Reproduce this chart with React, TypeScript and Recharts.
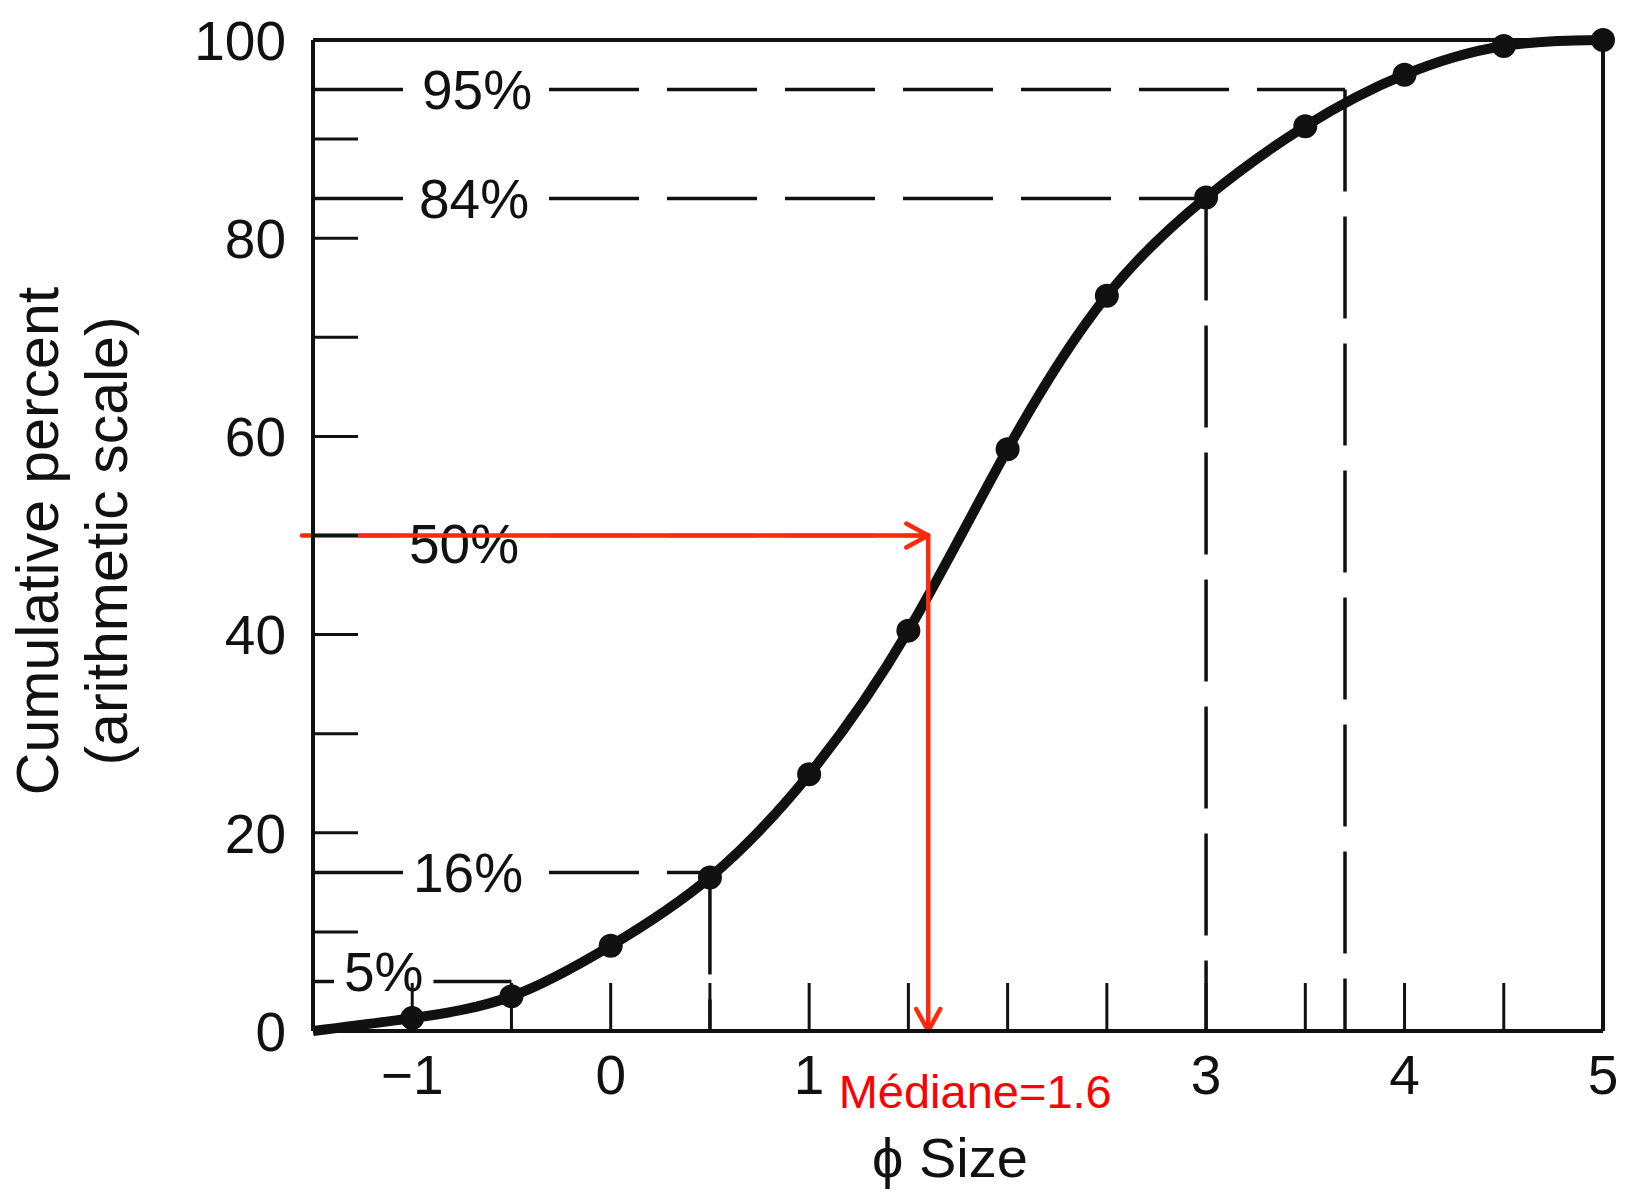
import React from 'react'
import { LineChart, Line, XAxis, YAxis, ReferenceLine } from 'recharts'

// cumulative grain-size curve (phi scale)
const phiSize = [-1.5, -1, -0.5, 0, 0.5, 1, 1.5, 2, 2.5, 3, 3.5, 4, 4.5, 5]
const cumulativePct = [0, 1.3, 3.5, 8.6, 15.5, 25.9, 40.4, 58.7, 74.2, 84.1, 91.3, 96.5, 99.4, 100]

const xLabelTicks = [-1, 0, 1, 3, 4, 5]
const xMinorTicks = [-1, -0.5, 0, 0.5, 1, 1.5, 2, 2.5, 3, 3.5, 4, 4.5]
const yTicks = [0, 10, 20, 30, 40, 50, 60, 70, 80, 90, 100]

// percentile guides and where they meet the curve
const percentiles = [5, 16, 50, 84, 95]
const percentileLabels = ['5%', '16%', '50%', '84%', '95%']
const percentilePhi = [-0.5, 0.5, 1.6, 3, 3.7]
const dropLines = [16, 84, 95]

const MEDIAN = 1.6

const INK = '#111'
const RED = '#ff2a0a'
const FONT = '"Liberation Sans", Arial, Helvetica, sans-serif'

// label placement along each guide (px from the y axis, vertical nudge)
const labelInset: Record<number, number> = { 5: 31, 16: 100, 50: 96, 84: 106, 95: 109 }
const labelNudge: Record<number, number> = { 5: -10, 50: 8 }

const data = phiSize.map((phi, i) => ({ phi, pct: cumulativePct[i] }))

const Y_TICK_MARGIN = 27

function renderDot(p: any) {
  if (p.index === 0) return <g key={`d${p.index}`} />
  return <circle key={`d${p.index}`} cx={p.cx} cy={p.cy} r={12} fill={INK} />
}

// y tick: number every 20, short inward mark every 10
function YTick(props: any) {
  const { x, y, payload } = props
  const v = payload.value
  const axisX = x + Y_TICK_MARGIN
  return (
    <g>
      {v % 20 === 0 && (
        <text x={x} y={y} dy="0.36em" textAnchor="end" fontSize={55} fontFamily={FONT} fill={INK}>
          {v}
        </text>
      )}
      {v > 0 && v < 100 && <line x1={axisX} y1={y} x2={axisX + 45} y2={y} stroke={INK} strokeWidth={3} />}
    </g>
  )
}

function GuideLine(props: any) {
  const { x1, y1, x2, y2, text, pct } = props
  const fs = 55
  const left = x1 + (labelInset[pct] ?? 100)
  const w = ((text.length - 1) * 0.556 + 0.889) * fs
  const dy = labelNudge[pct] ?? 0
  return (
    <g>
      <line x1={x1} y1={y1} x2={x2} y2={y2} stroke={INK} strokeWidth={3.5} strokeDasharray="90 28" />
      <rect x={left - 10} y={y1 - 32 + dy} width={w + 20} height={64} fill="#fff" />
      <text x={left} y={y1 + dy} dy="0.36em" fontSize={fs} fontFamily={FONT} fill={INK}>
        {text}
      </text>
    </g>
  )
}

function DropLine(props: any) {
  const { x1, y1, x2, y2 } = props
  return <line x1={x1} y1={y1} x2={x2} y2={y2} stroke={INK} strokeWidth={3.5} strokeDasharray="102 25" />
}

function MedianArrowH(props: any) {
  const { x1, y1, x2 } = props
  return (
    <g stroke={RED} strokeWidth={4.5} fill="none" strokeLinecap="round" strokeLinejoin="round">
      <line x1={x1 - 11} y1={y1} x2={x2} y2={y1} />
      <polyline points={`${x2 - 22},${y1 - 12} ${x2},${y1} ${x2 - 22},${y1 + 12}`} />
    </g>
  )
}

function MedianArrowV(props: any) {
  const { x1, y1, y2 } = props
  return (
    <g>
      <g stroke={RED} strokeWidth={4.5} fill="none" strokeLinecap="round" strokeLinejoin="round">
        <line x1={x1} y1={y1} x2={x1} y2={y2} />
        <polyline points={`${x1 - 12},${y2 - 22} ${x1},${y2} ${x1 + 12},${y2 - 22}`} />
      </g>
      <text x={x1 + 47} y={y2 + 77} textAnchor="middle" fontSize={47} fontFamily={FONT} fill="#ff0000">
        {`Médiane=${MEDIAN}`}
      </text>
    </g>
  )
}

const tickStyle = { fill: INK, fontSize: 55, fontFamily: FONT }

export default function App() {
  return (
    <div style={{ position: 'absolute', left: 0, top: 0, width: 1633, height: 1196, background: '#fff' }}>
      <LineChart width={1633} height={1196} data={data} margin={{ top: 40, right: 30, left: 213, bottom: 105 }}>
        <XAxis
          dataKey="phi"
          type="number"
          domain={[-1.5, 5]}
          ticks={xLabelTicks}
          tickFormatter={(v: number) => (v < 0 ? `\u2212${Math.abs(v)}` : `${v}`)}
          tick={tickStyle}
          tickLine={false}
          tickSize={0}
          tickMargin={24}
          height={60}
          axisLine={{ stroke: INK, strokeWidth: 4 }}
        />
        <XAxis
          xAxisId="minor"
          dataKey="phi"
          type="number"
          domain={[-1.5, 5]}
          ticks={xMinorTicks}
          orientation="bottom"
          mirror
          height={60}
          tickSize={48}
          tickFormatter={() => ''}
          tickLine={{ stroke: INK, strokeWidth: 3 }}
          axisLine={false}
        />
        <YAxis
          type="number"
          domain={[0, 100]}
          ticks={yTicks}
          tick={<YTick />}
          tickLine={false}
          tickSize={0}
          tickMargin={Y_TICK_MARGIN}
          width={100}
          axisLine={{ stroke: INK, strokeWidth: 4 }}
        />

        {/* frame */}
        <ReferenceLine y={100} stroke={INK} strokeWidth={4} />
        <ReferenceLine x={5} stroke={INK} strokeWidth={4} />

        {/* vertical drops from the percentile crossings */}
        {percentiles.map((p, i) =>
          dropLines.includes(p) ? (
            <ReferenceLine
              key={`drop${p}`}
              segment={[{ x: percentilePhi[i], y: p }, { x: percentilePhi[i], y: 0 }]}
              shape={(sp: any) => <DropLine {...sp} />}
            />
          ) : null
        )}

        {/* percentile guides with labels */}
        {percentiles.map((p, i) => (
          <ReferenceLine
            key={`guide${p}`}
            segment={[{ x: -1.5, y: p }, { x: percentilePhi[i], y: p }]}
            shape={(sp: any) => <GuideLine {...sp} text={percentileLabels[i]} pct={p} />}
          />
        ))}

        <Line
          dataKey="pct"
          type="natural"
          stroke={INK}
          strokeWidth={10}
          dot={renderDot}
          activeDot={false}
          isAnimationActive={false}
        />

        {/* median read-off */}
        <ReferenceLine
          segment={[{ x: -1.5, y: 50 }, { x: MEDIAN, y: 50 }]}
          shape={(sp: any) => <MedianArrowH {...sp} />}
        />
        <ReferenceLine
          segment={[{ x: MEDIAN, y: 50 }, { x: MEDIAN, y: 0 }]}
          shape={(sp: any) => <MedianArrowV {...sp} />}
        />
      </LineChart>

      {/* axis titles */}
      <svg width={1633} height={1196} style={{ position: 'absolute', left: 0, top: 0, pointerEvents: 'none' }}>
        <g fontFamily={FONT} fill={INK} fontSize={59} textAnchor="middle">
          <text transform="translate(58,541) rotate(-90)">Cumulative percent</text>
          <text transform="translate(127,541) rotate(-90)">(arithmetic scale)</text>
          <text x={950} y={1177} fontSize={56}>ϕ Size</text>
        </g>
      </svg>
    </div>
  )
}
